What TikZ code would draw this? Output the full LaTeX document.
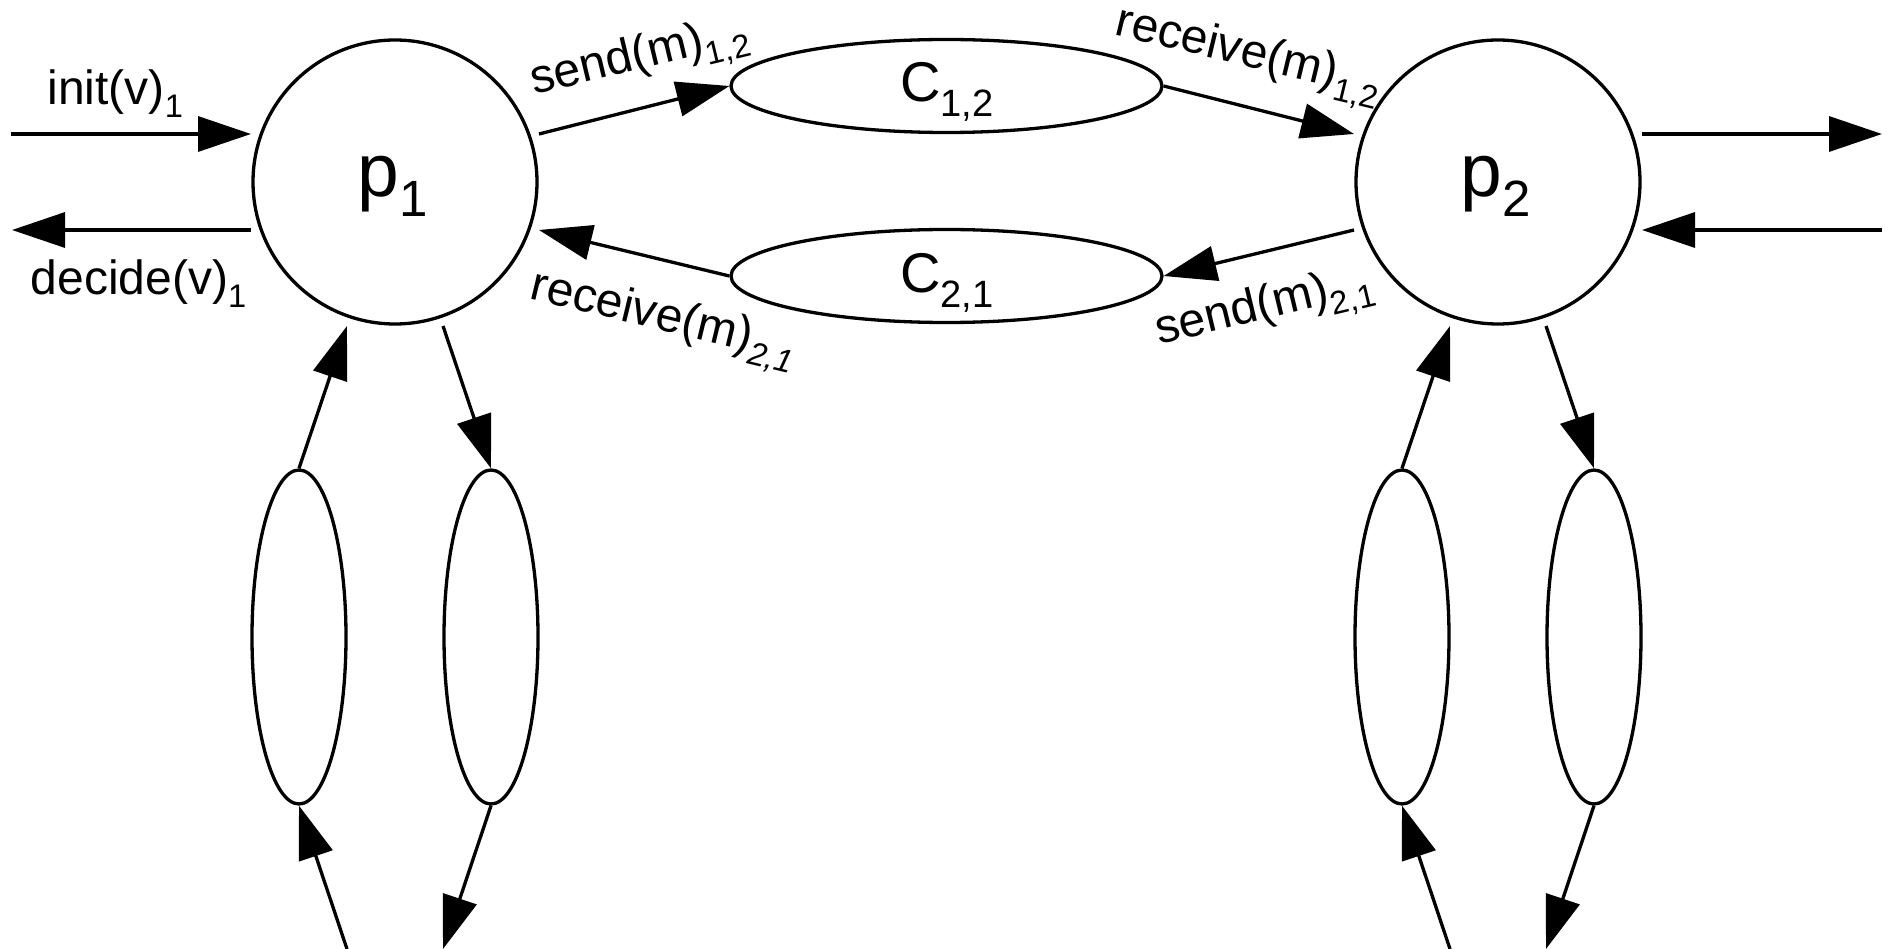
\documentclass[tikz,border=0pt]{standalone}
\usepackage{graphicx}
\usepackage{fontspec}
\setmainfont{Liberation Sans}
\usetikzlibrary{arrows.meta,shapes.geometric,calc}
\newcommand{\lsub}[1]{\raisebox{-0.26em}{\scalebox{0.68}{#1}}}
\begin{document}
\begin{tikzpicture}[x=1pt,y=-1pt,line width=3.3pt,
  arr/.style={-{Triangle[length=53pt,width=35pt]}},
  proc/.style={circle,draw,minimum size=284pt,inner sep=0pt},
  chan/.style={ellipse,draw,minimum width=431pt,minimum height=93pt,inner sep=0pt},
  vchan/.style={ellipse,draw,minimum width=94pt,minimum height=334pt,inner sep=0pt},
  lbl/.style={inner sep=0pt,font=\fontsize{48}{52}\selectfont},
  biglbl/.style={inner sep=0pt,font=\fontsize{75}{80}\selectfont},
  midlbl/.style={inner sep=0pt,font=\fontsize{56}{60}\selectfont}]
\useasboundingbox (0,0) rectangle (1898,949);

% processes
\node[proc] (p1) at (395,182) {};
\node[proc] (p2) at (1498,182) {};
\node[biglbl,anchor=base] (p1t) at (393,197) {p\lsub{1}};
\node[biglbl,anchor=base] (p2t) at (1496,197) {p\lsub{2}};

% channels
\node[chan] (c12) at (946.5,86) {};
\node[chan] (c21) at (946.5,276) {};
\node[midlbl,anchor=base] (c12t) at (947,102) {C\lsub{1,2}};
\node[midlbl,anchor=base] (c21t) at (947,293) {C\lsub{2,1}};

% lower ellipses
\node[vchan] (l1) at (299,637) {};
\node[vchan] (r1) at (491,637) {};
\node[vchan] (l2) at (1402,637) {};
\node[vchan] (r2) at (1594,637) {};

% connection points on the processes
\coordinate (p1w1) at ($(p1.center)+(-144,-48)$);
\coordinate (p1w2) at ($(p1.center)+(-144,48)$);
\coordinate (p1e1) at ($(p1.center)+(144,-48)$);
\coordinate (p1e2) at ($(p1.center)+(144,48)$);
\coordinate (p1s1) at ($(p1.center)+(-48,144)$);
\coordinate (p1s2) at ($(p1.center)+(48,144)$);
\coordinate (p2w1) at ($(p2.center)+(-144,-48)$);
\coordinate (p2w2) at ($(p2.center)+(-144,48)$);
\coordinate (p2e1) at ($(p2.center)+(144,-48)$);
\coordinate (p2e2) at ($(p2.center)+(144,48)$);
\coordinate (p2s1) at ($(p2.center)+(-48,144)$);
\coordinate (p2s2) at ($(p2.center)+(48,144)$);

% free ends
\coordinate (inL) at (11,134);
\coordinate (outL) at (12,230);
\coordinate (outR) at (1882,134);
\coordinate (inR) at (1882,230);
\coordinate (b1a) at (347,949);
\coordinate (b1b) at (443,949);
\coordinate (b2a) at (1450,949);
\coordinate (b2b) at (1546,949);

% connectors
\draw[arr] (inL) -- (p1w1);
\draw[arr] (p1w2) -- (outL);
\draw[arr] (p1e1) -- (c12.west);
\draw[arr] (c12.east) -- (p2w1);
\draw[arr] (p2w2) -- (c21.east);
\draw[arr] (c21.west) -- (p1e2);
\draw[arr] (p2e1) -- (outR);
\draw[arr] (inR) -- (p2e2);

\draw[arr] (l1.north) -- (p1s1);
\draw[arr] (p1s2) -- (r1.north);
\draw[arr] (b1a) -- (l1.south);
\draw[arr] (r1.south) -- (b1b);
\draw[arr] (l2.north) -- (p2s1);
\draw[arr] (p2s2) -- (r2.north);
\draw[arr] (b2a) -- (l2.south);
\draw[arr] (r2.south) -- (b2b);

% labels
\node[lbl,anchor=base west] (linit) at (46,105) {init(v)\lsub{1}};
\node[lbl,anchor=base west] (ldec) at (29,295) {decide(v)\lsub{1}};
\node[lbl,anchor=base west,rotate=13.5] (ls12) at (533,95) {send(m)\lsub{1,2}};
\node[lbl,anchor=base west,rotate=-13.5] (lr12) at (1112,34) {receive(m)\lsub{1,2}};
\node[lbl,anchor=base west,rotate=-13.5] (lr21) at (527,298) {receive(m)\lsub{\itshape 2,1}};
\node[lbl,anchor=base west,rotate=13.5] (ls21) at (1158,345) {send(m)\lsub{2,1}};
\end{tikzpicture}
\end{document}
